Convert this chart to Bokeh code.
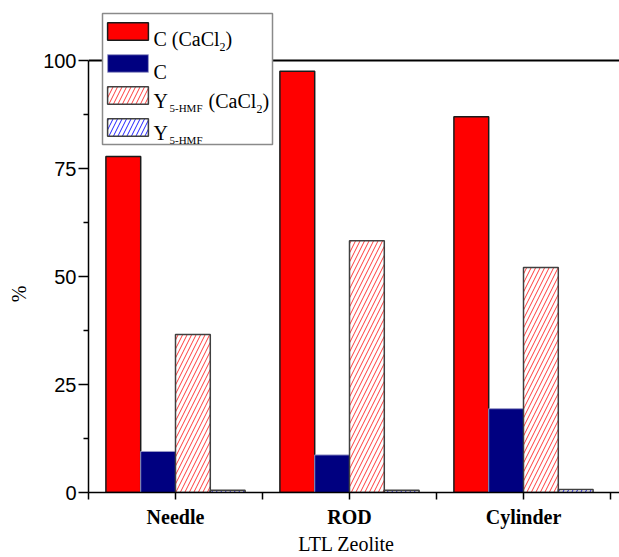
import math
from bokeh.plotting import figure
from bokeh.models import (ColumnDataSource, FixedTicker, CustomJSTickFormatter, BoxAnnotation,
                          LinearAxis, Legend, LegendItem, Label, Range1d, Span)
from bokeh.transform import dodge
from bokeh.embed import file_html
from bokeh.resources import INLINE

# ---- data ----
categories = ["Needle", "ROD", "Cylinder"]
conv_cacl2 = [77.8, 97.5, 87.0]      # C (CaCl2)
conv_plain = [9.5, 8.7, 19.4]        # C
yield_cacl2 = [36.6, 58.3, 52.1]     # Y5-HMF (CaCl2)
yield_plain = [0.5, 0.5, 0.7]        # Y5-HMF
y_ticks = [0, 25, 50, 75, 100]
y_minor_ticks = [12.5, 37.5, 62.5, 87.5]
x_ticks = [-0.5, 0, 0.5, 1, 1.5, 2, 2.5]

src = ColumnDataSource(dict(idx=list(range(len(categories))), cat=categories,
                            a=conv_cacl2, b=conv_plain, c=yield_cacl2, d=yield_plain))

# frame: left 88, top 0, bottom 492 (page px); 174 px per category, 4.32 px per %
FL, FB = 88, 492
W, H = 619, 557
NB = "\u00a0"

p = figure(width=W, height=H, output_backend="svg", toolbar_location=None,
           x_range=Range1d(-0.5, -0.5 + (W - FL) / 174.0),
           y_range=Range1d(0, 100 + 60 / 4.32),
           min_border_left=FL, min_border_top=0, min_border_bottom=H - FB, min_border_right=0,
           x_axis_type=None, y_axis_type=None)
p.outline_line_color = None
p.background_fill_color = "white"
p.border_fill_color = "white"

bw = 0.2
r1 = p.vbar(x=dodge("idx", -0.3, range=p.x_range), top="a", bottom=0, width=bw, source=src,
            fill_color="#ff0000", line_color="#1a1a1a", line_width=1.5)
r2 = p.vbar(x=dodge("idx", -0.1, range=p.x_range), top="b", bottom=0, width=bw, source=src,
            fill_color="#000080", line_color="#9a9ac8", line_width=1)
r3 = p.vbar(x=dodge("idx", 0.1, range=p.x_range), top="c", bottom=0, width=bw, source=src,
            fill_color="white", hatch_pattern="/", hatch_color="#ff3b3b", hatch_scale=9,
            hatch_weight=1, line_color="#404040", line_width=1.5)
r4 = p.vbar(x=dodge("idx", 0.3, range=p.x_range), top="d", bottom=0, width=bw, source=src,
            fill_color="white", hatch_pattern="/", hatch_color="#2020ff", hatch_scale=9,
            hatch_weight=1, line_color="#404040", line_width=1.5)

# top frame line at 100 %
p.add_layout(Span(location=100, dimension="width", line_color="black", line_width=2))

# ---- axes ----
yaxis = LinearAxis(ticker=FixedTicker(ticks=y_ticks, minor_ticks=y_minor_ticks), bounds=(0, 100))
yaxis.major_label_text_font = "Liberation Sans"
yaxis.major_label_text_font_size = "20px"
yaxis.major_label_text_color = "black"
yaxis.major_tick_out = 10
yaxis.major_tick_in = 0
yaxis.minor_tick_out = 5
yaxis.minor_tick_in = 0
yaxis.axis_line_width = 1.5
yaxis.major_tick_line_width = 1.5
yaxis.minor_tick_line_width = 1.5
yaxis.major_label_standoff = 2
yaxis.axis_label = "%" + NB * 19   # padding moves the glyph down to match the reference
yaxis.axis_label_text_font = "Liberation Serif"
yaxis.axis_label_text_font_style = "normal"
yaxis.axis_label_text_font_size = "20px"
yaxis.axis_label_text_color = "black"
yaxis.axis_label_standoff = 10
p.add_layout(yaxis, "left")

xaxis = LinearAxis(ticker=FixedTicker(ticks=x_ticks),
                   formatter=CustomJSTickFormatter(args=dict(names=categories), code="""
                       const i = Math.round(tick);
                       if (Math.abs(tick - i) < 1e-6 && i >= 0 && i < names.length) { return names[i]; }
                       return '';
                   """))
xaxis.major_label_text_font = "Liberation Serif"
xaxis.major_label_text_font_style = "bold"
xaxis.major_label_text_font_size = "20px"
xaxis.major_label_text_color = "black"
xaxis.major_tick_out = 7
xaxis.major_tick_in = 0
xaxis.minor_tick_out = 0
xaxis.axis_line_width = 1.5
xaxis.major_tick_line_width = 1.5
xaxis.major_label_standoff = 6
xaxis.axis_label = "LTL Zeolite" + NB * 3
xaxis.axis_label_text_font = "Liberation Serif"
xaxis.axis_label_text_font_style = "normal"
xaxis.axis_label_text_font_size = "20px"
xaxis.axis_label_text_color = "black"
xaxis.axis_label_standoff = 2
p.add_layout(xaxis, "below")

# ---- legend box (white, grey border) drawn over the top line ----
p.add_layout(BoxAnnotation(left=102 - FL, right=272 - FL, top=FB - 13, bottom=FB - 144,
                           left_units="screen", right_units="screen",
                           top_units="screen", bottom_units="screen",
                           fill_color="white", fill_alpha=1.0,
                           line_color="#8a8a8a", line_width=1.5, line_alpha=1.0))

# ---- legend swatches (transparent legend) ----
legend = Legend(items=[LegendItem(label=" ", renderers=[r]) for r in (r1, r2, r3, r4)],
                location=(102 - FL, FB - 138), orientation="vertical",
                glyph_width=51, glyph_height=22, label_height=22, label_width=10,
                label_standoff=5, padding=1, spacing=10,
                label_text_font_size="12px",
                border_line_color=None, background_fill_alpha=0.0)
p.add_layout(legend)

def txt(text, px, base, size="20px"):
    p.add_layout(Label(x=px - FL, y=FB - base, x_units="screen", y_units="screen", text=text,
                       text_font="Liberation Serif", text_font_size=size, text_color="black",
                       text_baseline="alphabetic", text_align="left", level="overlay"))

# legend texts with subscripts
txt("C (CaCl", 153, 38)
txt("2", 219, 46, size="12px")
txt(")", 225, 38)
txt("C", 153, 71)
txt("Y", 153, 100)
txt("5-HMF", 169, 107, size="11px")
txt("(CaCl", 208, 100)
txt("2", 256, 108, size="12px")
txt(")", 262, 100)
txt("Y", 153, 132)
txt("5-HMF", 169, 139, size="11px")

open("out.html", "w").write(file_html(p, INLINE))
